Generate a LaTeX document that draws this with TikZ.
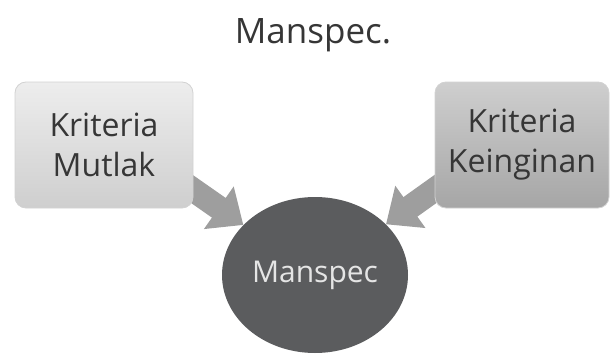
\documentclass[tikz,border=0pt]{standalone}
\usepackage{fontspec}
\setmainfont{Open Sans}
\usepackage{xcolor}
\usetikzlibrary{shapes.geometric,arrows.meta,backgrounds}

\definecolor{boxtext}{HTML}{363636}
\definecolor{ballgray}{HTML}{5B5C5E}
\definecolor{arrowgray}{HTML}{9E9E9E}

\tikzset{
  critbox/.style={rectangle,rounded corners=11pt,draw=gray!35,line width=0.8pt,
    minimum height=126pt,align=center,text=boxtext,
    font=\fontsize{32}{40}\selectfont},
  blockarrow/.style={arrowgray,line width=24pt,
    -{Triangle[length=30pt,width=50pt]}}
}

\begin{document}
\begin{tikzpicture}[x=1pt,y=-1pt]
\useasboundingbox (0,0) rectangle (611,356);

\node[anchor=base,text=boxtext,font=\fontsize{35}{40}\selectfont] (title) at (313,43) {Manspec.};

\node[critbox,minimum width=178pt,top color=black!7,bottom color=black!19] (mutlak) at (104,145) {Kriteria\\Mutlak};
\node[critbox,minimum width=174pt,top color=black!19,bottom color=black!35] (keinginan) at (522,145) {Kriteria\\Keinginan};

\node[ellipse,fill=ballgray,minimum width=186pt,minimum height=156pt,inner sep=0pt,
  text=black!10,font=\fontsize{30}{36}\selectfont] (manspec) at (315,275) {Manspec};

% arrows behind the boxes
\begin{scope}[on background layer]
\draw[blockarrow] ([xshift=25pt]mutlak.center) -- (manspec);
\draw[blockarrow] ([xshift=-25pt]keinginan.center) -- (manspec);
\end{scope}

\end{tikzpicture}
\end{document}
